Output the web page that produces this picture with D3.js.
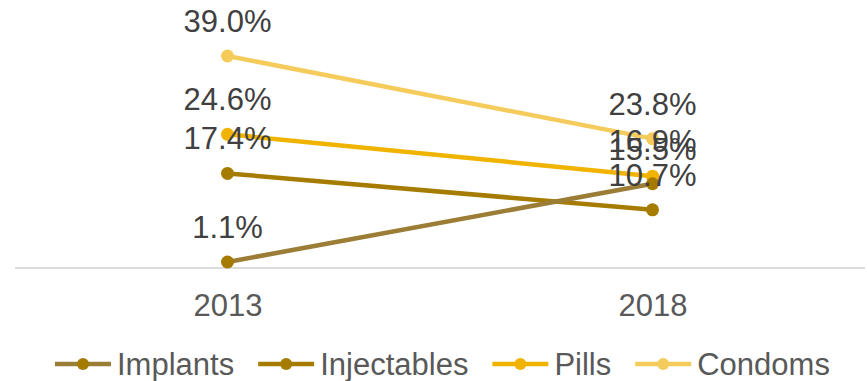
<!DOCTYPE html>
<html>
<head>
<meta charset="utf-8">
<script src="https://cdn.jsdelivr.net/npm/d3@7"></script>
<style>
  html, body { margin: 0; padding: 0; background: #fff; }
  svg { display: block; font-family: "Liberation Sans", Arial, sans-serif; }
</style>
</head>
<body>
<svg id="chart" width="867" height="381"></svg>
<script>
const categories = ["2013", "2018"];
const seriesNames = ["Implants", "Injectables", "Pills", "Condoms"];
const implants = [1.1, 15.5];
const injectables = [17.4, 10.7];
const pills = [24.6, 16.9];
const condoms = [39.0, 23.8];

const lineColors = ["#9B7D36", "#A67C00", "#F0B400", "#F5CB5C"];
const markerColors = ["#A57A00", "#A67C00", "#F0B400", "#F5CB5C"];

const series = [implants, injectables, pills, condoms].map((vals, i) => ({
  name: seriesNames[i],
  values: vals.map((v, j) => ({ cat: categories[j], v })),
  line: lineColors[i],
  marker: markerColors[i]
}));

const svg = d3.select("#chart");
const x = d3.scalePoint().domain(categories).range([15, 865]).padding(0.5);
const y = d3.scaleLinear().domain([0, 45]).range([268, 23.4]);

// axis
const xAxis = d3.axisBottom(x).tickSize(0).tickPadding(26);
const ax = svg.append("g").attr("transform", "translate(0,268)").call(xAxis);
ax.select(".domain").attr("stroke", "#D0D0D0").attr("stroke-width", 1.5)
  .attr("d", "M15,0H865");
ax.selectAll("text").attr("font-size", 31).attr("fill", "#595959")
  .attr("font-family", "Liberation Sans, Arial, sans-serif");

const lineGen = d3.line().x(d => x(d.cat)).y(d => y(d.v));

// draw in reverse so Implants is on top
const drawOrder = series.slice().reverse();
drawOrder.forEach(s => {
  svg.append("path").datum(s.values)
    .attr("d", lineGen).attr("fill", "none")
    .attr("stroke", s.line).attr("stroke-width", 4.5).attr("stroke-linecap", "round");
  svg.selectAll(null).data(s.values).enter().append("circle")
    .attr("cx", d => x(d.cat)).attr("cy", d => y(d.v)).attr("r", 6.5)
    .attr("fill", s.marker);
});

// labels
drawOrder.forEach(s => {
  svg.selectAll(null).data(s.values).enter().append("text")
    .attr("x", d => x(d.cat)).attr("y", d => y(d.v) - 24)
    .attr("text-anchor", "middle").attr("font-size", 31).attr("fill", "#404040")
    .text(d => d.v.toFixed(1) + "%");
});

// legend
const leg = svg.append("g");
let lx = 55;
const ly = 364;
series.forEach(s => {
  const g = leg.append("g");
  g.append("line").attr("x1", lx).attr("x2", lx + 56).attr("y1", ly).attr("y2", ly)
    .attr("stroke", s.line).attr("stroke-width", 4.5);
  g.append("circle").attr("cx", lx + 28).attr("cy", ly).attr("r", 6).attr("fill", s.marker);
  const t = g.append("text").attr("x", lx + 62).attr("y", ly + 11)
    .attr("font-size", 31).attr("fill", "#595959").text(s.name);
  const w = t.node().getComputedTextLength();
  lx = lx + 62 + w + 24;
});
</script>
</body>
</html>
